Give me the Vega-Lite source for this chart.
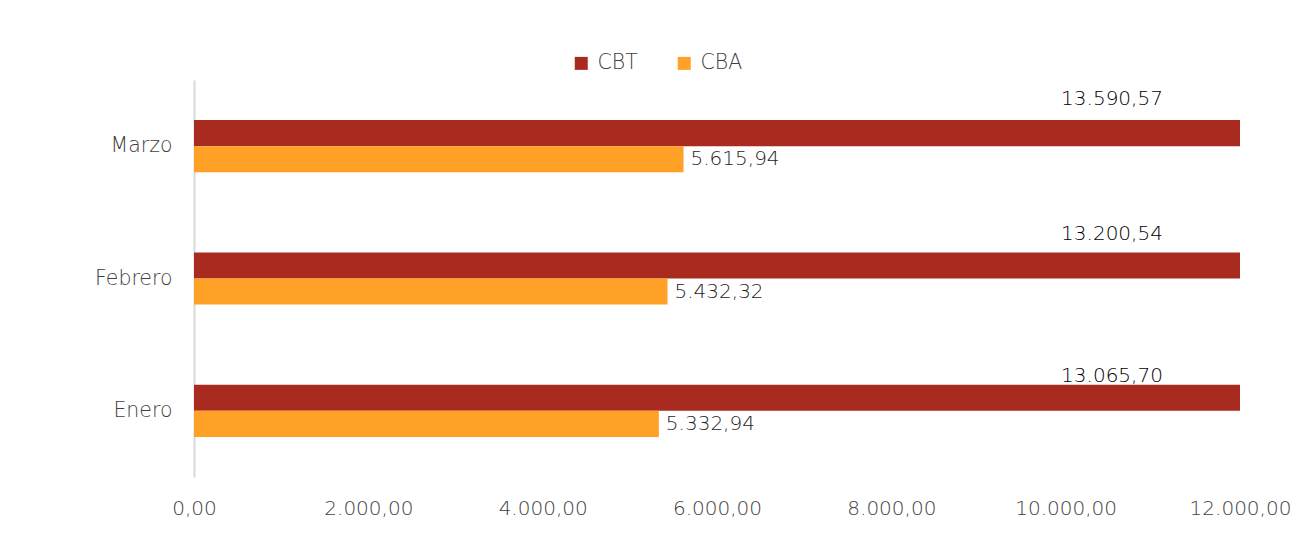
{
  "$schema": "https://vega.github.io/schema/vega-lite/v6.json",
  "autosize": {"type": "none"},
  "padding": {"left": 194, "top": 80, "right": 55, "bottom": 64},
  "width": 1046,
  "height": 397,
  "background": "white",
  "data": {
    "values": [
      {"mes": "Marzo", "serie": "CBT", "valor": 13590.57},
      {"mes": "Marzo", "serie": "CBA", "valor": 5615.94},
      {"mes": "Febrero", "serie": "CBT", "valor": 13200.54},
      {"mes": "Febrero", "serie": "CBA", "valor": 5432.32},
      {"mes": "Enero", "serie": "CBT", "valor": 13065.70},
      {"mes": "Enero", "serie": "CBA", "valor": 5332.94}
    ]
  },
  "encoding": {
    "y": {
      "field": "mes", "type": "nominal", "sort": ["Marzo", "Febrero", "Enero"],
      "scale": {"paddingInner": 0.606, "paddingOuter": 0.303},
      "axis": {"title": null, "ticks": false, "domainColor": "#d9d9d9", "domainWidth": 2,
               "labelFont": "DejaVu Sans", "labelFontWeight": 300, "labelFontSize": 20.5, "labelColor": "#404040", "labelPadding": 22}
    },
    "yOffset": {"field": "serie", "type": "nominal", "sort": ["CBT", "CBA"]}
  },
  "layer": [
    {
      "transform": [{"filter": "datum.serie === 'CBT' && datum.mes === 'Marzo'"}],
      "mark": {"type": "text", "align": "center", "baseline": "middle", "dx": -128, "dy": -34,
               "font": "DejaVu Sans", "fontWeight": 300, "fontSize": 20, "color": "#000000"},
      "encoding": {
        "x": {"datum": 12000, "type": "quantitative"},
        "text": {"field": "valor", "type": "quantitative", "format": ",.2f"}
      }
    },
    {
      "transform": [{"filter": "datum.serie === 'CBT' && datum.mes === 'Febrero'"}],
      "mark": {"type": "text", "align": "center", "baseline": "middle", "dx": -128, "dy": -31,
               "font": "DejaVu Sans", "fontWeight": 300, "fontSize": 20, "color": "#000000"},
      "encoding": {
        "x": {"datum": 12000, "type": "quantitative"},
        "text": {"field": "valor", "type": "quantitative", "format": ",.2f"}
      }
    },
    {
      "transform": [{"filter": "datum.serie === 'CBT' && datum.mes === 'Enero'"}],
      "mark": {"type": "text", "align": "center", "baseline": "middle", "dx": -128, "dy": -22,
               "font": "DejaVu Sans", "fontWeight": 300, "fontSize": 20, "color": "#000000"},
      "encoding": {
        "x": {"datum": 12000, "type": "quantitative"},
        "text": {"field": "valor", "type": "quantitative", "format": ",.2f"}
      }
    },
    {
      "mark": {"type": "bar", "clip": true},
      "encoding": {
        "x": {
          "field": "valor", "type": "quantitative",
          "scale": {"domain": [0, 12000], "nice": false},
          "axis": {"title": null, "values": [0, 2000, 4000, 6000, 8000, 10000, 12000], "format": ",.2f",
                   "grid": false, "domain": false, "ticks": false,
                   "labelFont": "DejaVu Sans", "labelFontWeight": 300, "labelFontSize": 20, "labelColor": "#404040", "labelPadding": 21,
                   "labelFlush": false, "labelOverlap": false}
        },
        "color": {
          "field": "serie", "type": "nominal",
          "scale": {"domain": ["CBT", "CBA"], "range": ["#A92B1F", "#FFA126"]},
          "legend": {"title": null, "orient": "none", "legendX": 377, "legendY": -27, "direction": "horizontal",
                     "symbolType": "square", "symbolSize": 169, "symbolStrokeWidth": 0, "symbolOpacity": 1,
                     "labelFont": "DejaVu Sans", "labelFontWeight": 300, "labelFontSize": 20.5, "labelColor": "#404040", "labelOffset": 6,
                     "columnPadding": 36}
        }
      }
    },
    {
      "transform": [{"filter": "datum.serie === 'CBA'"}],
      "mark": {"type": "text", "align": "left", "baseline": "middle", "dx": 7,
               "font": "DejaVu Sans", "fontWeight": 300, "fontSize": 20, "color": "#262626"},
      "encoding": {
        "x": {"field": "valor", "type": "quantitative"},
        "text": {"field": "valor", "type": "quantitative", "format": ",.2f"}
      }
    }
  ],
  "config": {
    "view": {"stroke": null},
    "locale": {"number": {"decimal": ",", "thousands": ".", "grouping": [3], "currency": ["", ""]}}
  }
}
